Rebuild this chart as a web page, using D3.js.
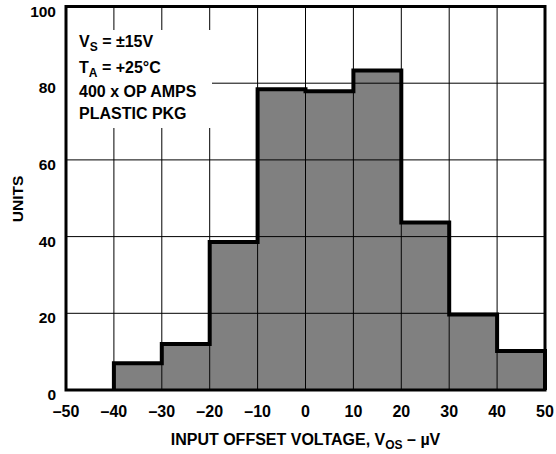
<!DOCTYPE html>
<html><head><meta charset="utf-8">
<script src="https://cdn.jsdelivr.net/npm/d3@7"></script>
<style>
html,body{margin:0;padding:0;background:#fff;}
text{font-family:"Liberation Sans",Arial,sans-serif;font-weight:bold;fill:#000;}
</style></head>
<body>
<script>
// Data
const binStarts = [-40, -30, -20, -10, 0, 10, 20, 30, 40];
const binWidth = 10;
const units = [7, 12, 38.6, 78.4, 77.9, 83.3, 43.7, 19.7, 10.2];
const xTicks = [-50, -40, -30, -20, -10, 0, 10, 20, 30, 40, 50];
const yTicks = [0, 20, 40, 60, 80, 100];
const notes = [["V", "S", " = ±15V"], ["T", "A", " = +25°C"], ["400 x OP AMPS", "", ""], ["PLASTIC PKG", "", ""]];

const W = 556, H = 454;
const svg = d3.select("body").append("svg").attr("width", W).attr("height", H);
const x = d3.scaleLinear().domain([-50, 50]).range([66, 545]);
const y = d3.scaleLinear().domain([0, 100]).range([390, 6.5]);
const fmt = d => (d < 0 ? "\u2013" + Math.abs(d) : String(d));

// bars
svg.append("g").selectAll("rect").data(binStarts).join("rect")
  .attr("x", (d) => x(d)).attr("width", x(binWidth) - x(0))
  .attr("y", (d, i) => y(units[i])).attr("height", (d, i) => y(0) - y(units[i]))
  .attr("fill", "#808080");

// grid
const grid = svg.append("g").attr("stroke", "#000").attr("stroke-width", 1);
grid.selectAll(".v").data(xTicks).join("line")
  .attr("x1", d => x(d)).attr("x2", d => x(d)).attr("y1", y(100)).attr("y2", y(0));
grid.selectAll(".h").data(yTicks).join("line")
  .attr("x1", x(-50)).attr("x2", x(50)).attr("y1", d => y(d)).attr("y2", d => y(d));

// annotation box
svg.append("rect").attr("x", x(-50)).attr("y", 30).attr("width", 212 - x(-50)).attr("height", 98).attr("fill", "#fff");
const nt = svg.append("g");
const noteY = [47, 73, 97, 119];
notes.forEach((n, i) => {
  const t = nt.append("text").attr("x", 79).attr("y", noteY[i]).style("font-size", "16px");
  t.append("tspan").text(n[0]);
  if (n[1]) {
    t.append("tspan").attr("dy", 4).style("font-size", "12px").text(n[1]);
    t.append("tspan").attr("dy", -4).text(n[2]);
  }
});

// outline
const path = d3.path();
path.moveTo(x(binStarts[0]), y(0));
binStarts.forEach((b, i) => {
  path.lineTo(x(b), y(units[i]));
  path.lineTo(x(b + binWidth), y(units[i]));
});
path.lineTo(x(50), y(0));
svg.append("path").attr("d", path.toString()).attr("fill", "none").attr("stroke", "#000")
  .attr("stroke-width", 4).attr("stroke-linejoin", "miter");

// frame
svg.append("rect").attr("x", x(-50)).attr("y", y(100)).attr("width", x(50) - x(-50)).attr("height", y(0) - y(100))
  .attr("fill", "none").attr("stroke", "#000").attr("stroke-width", 3);

// tick labels
svg.append("g").selectAll("text").data(yTicks).join("text")
  .attr("x", 56).attr("y", d => y(d) + 10).attr("text-anchor", "end").style("font-size", "15.5px").text(d => d);
svg.append("g").selectAll("text").data(xTicks).join("text")
  .attr("x", d => x(d)).attr("y", 417).attr("text-anchor", "middle").style("font-size", "16px").text(fmt);

// axis titles
const xt = svg.append("text").attr("x", (x(-50) + x(50)) / 2).attr("y", 445).attr("text-anchor", "middle").style("font-size", "16px");
xt.append("tspan").text("INPUT OFFSET VOLTAGE, V");
xt.append("tspan").attr("dy", 4).style("font-size", "12px").text("OS");
xt.append("tspan").attr("dy", -4).text(" \u2013 \u00b5V");
svg.append("text").attr("transform", "translate(22.5,199) rotate(-90)").attr("text-anchor", "middle")
  .style("font-size", "15.5px").text("UNITS");
</script>
</body></html>
